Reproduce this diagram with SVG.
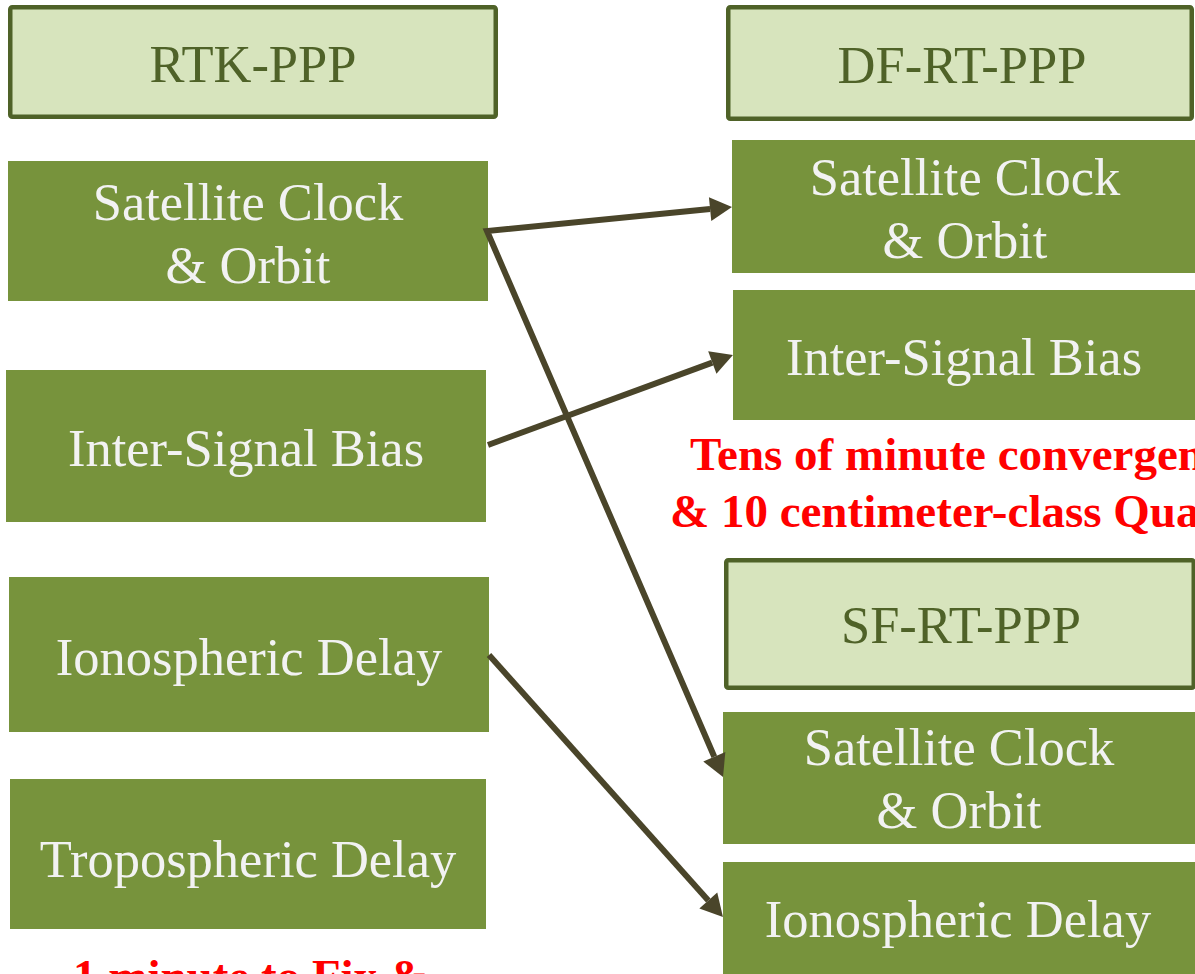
<svg xmlns="http://www.w3.org/2000/svg" width="1195" height="974" viewBox="0 0 1195 974">
  <defs>
    <style>
      .hdr rect { fill: #d7e4bd; stroke: #4f6228; stroke-width: 4.5; }
      .hdr text { fill: #4f6228; }
      .box rect { fill: #77933c; }
      .box text { fill: #f2f2f2; }
      text { font-family: "Liberation Serif", "Times New Roman", serif; font-size: 52.5px; text-anchor: middle; }
      .note { fill: #ff0000; font-weight: bold; font-size: 47px; text-anchor: start; }
      .link { fill: none; stroke: #4a452a; stroke-width: 6; stroke-linejoin: miter; }
    </style>
    <marker id="head" markerUnits="userSpaceOnUse" markerWidth="24" markerHeight="26" refX="0" refY="12" orient="auto-start-reverse" overflow="visible">
      <path d="M0,0 L22,12 L0,24 Z" fill="#4a452a"/>
    </marker>
  </defs>

  <!-- RTK-PPP column -->
  <g id="rtk-ppp" class="hdr">
    <rect x="10.25" y="7.25" width="485.5" height="109.5" rx="2"/>
    <text x="253" y="82">RTK-PPP</text>
  </g>
  <g id="rtk-clock-orbit" class="box">
    <rect x="8" y="161" width="480" height="140"/>
    <text x="248" y="220">Satellite Clock</text>
    <text x="248" y="283">&amp; Orbit</text>
  </g>
  <g id="rtk-isb" class="box">
    <rect x="6" y="370" width="480" height="152"/>
    <text x="246" y="466">Inter-Signal Bias</text>
  </g>
  <g id="rtk-iono" class="box">
    <rect x="9" y="577" width="480" height="155"/>
    <text x="249" y="675">Ionospheric Delay</text>
  </g>
  <g id="rtk-tropo" class="box">
    <rect x="10" y="779" width="476" height="150"/>
    <text x="248" y="877">Tropospheric Delay</text>
  </g>
  <text id="rtk-note" class="note" x="73" y="992">1 minute to Fix &amp;</text>

  <!-- DF-RT-PPP column -->
  <g id="df-rt-ppp" class="hdr">
    <rect x="728.25" y="7.25" width="463.5" height="111.5" rx="2"/>
    <text x="962" y="83">DF-RT-PPP</text>
  </g>
  <g id="df-clock-orbit" class="box">
    <rect x="732" y="140" width="470" height="133"/>
    <text x="965" y="195">Satellite Clock</text>
    <text x="965" y="258">&amp; Orbit</text>
  </g>
  <g id="df-isb" class="box">
    <rect x="733" y="290" width="470" height="130"/>
    <text x="964" y="375">Inter-Signal Bias</text>
  </g>
  <g id="df-note">
    <text class="note" x="690" y="470">Tens of minute convergence</text>
    <text class="note" x="670" y="527">&amp; 10 centimeter-class Quality</text>
  </g>

  <!-- SF-RT-PPP column -->
  <g id="sf-rt-ppp" class="hdr">
    <rect x="726.25" y="560.25" width="467.5" height="127.5" rx="2"/>
    <text x="961" y="643">SF-RT-PPP</text>
  </g>
  <g id="sf-clock-orbit" class="box">
    <rect x="723" y="712" width="480" height="132"/>
    <text x="959" y="765">Satellite Clock</text>
    <text x="959" y="828">&amp; Orbit</text>
  </g>
  <g id="sf-iono" class="box">
    <rect x="723" y="862" width="480" height="120"/>
    <text x="958" y="937">Ionospheric Delay</text>
  </g>

  <!-- connectors -->
  <g id="connectors">
    <path class="link" d="M710.1,209.1 L487,231 L714.3,756.8" marker-start="url(#head)" marker-end="url(#head)"/>
    <path class="link" d="M488,445 L712.3,362.6" marker-end="url(#head)"/>
    <path class="link" d="M489,655 L708.3,900.6" marker-end="url(#head)"/>
  </g>
</svg>
